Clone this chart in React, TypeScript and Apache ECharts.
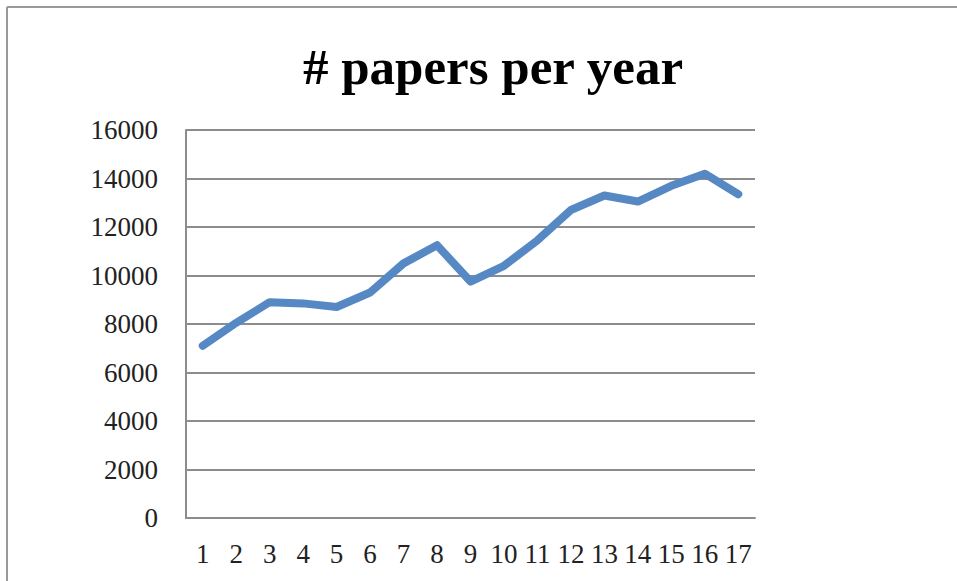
import React, { useEffect, useRef } from "react";
import * as echarts from "echarts";

const categories = ["1", "2", "3", "4", "5", "6", "7", "8", "9", "10", "11", "12", "13", "14", "15", "16", "17"];
const papers = [7100, 8050, 8900, 8850, 8700, 9300, 10500, 11250, 9750, 10400, 11450, 12700, 13300, 13050, 13700, 14200, 13350];
const titleText = "# papers per year";

export default function App() {
  const ref = useRef<HTMLDivElement>(null);
  useEffect(() => {
    if (!ref.current) return;
    const chart = echarts.init(ref.current, undefined, { renderer: "svg" });
    const serif = "'Liberation Serif', 'DejaVu Serif', serif";
    chart.setOption({
      animation: false,
      backgroundColor: "#ffffff",
      title: {
        text: titleText,
        left: 488,
        textAlign: "center",
        top: 36,
        textStyle: { fontFamily: serif, fontWeight: "bold", fontSize: 51, color: "#000000" },
      },
      graphic: [
        { type: "line", shape: { x1: 7, y1: 7, x2: 957, y2: 7 }, style: { stroke: "#9a9a9a", lineWidth: 2 } },
        { type: "line", shape: { x1: 7, y1: 7, x2: 7, y2: 581 }, style: { stroke: "#9a9a9a", lineWidth: 2 } },
      ],
      grid: { left: 186, right: 202, top: 130, bottom: 63, containLabel: false },
      xAxis: {
        type: "category",
        data: categories,
        boundaryGap: true,
        axisLine: { show: true, lineStyle: { color: "#8c8c8c", width: 2 } },
        axisTick: { show: false },
        axisLabel: { fontFamily: serif, fontSize: 27, color: "#222222", margin: 22, interval: 0 },
      },
      yAxis: {
        type: "value",
        min: 0,
        max: 16000,
        interval: 2000,
        axisLine: { show: true, lineStyle: { color: "#8c8c8c", width: 2 } },
        axisTick: { show: false },
        axisLabel: {
          fontFamily: serif,
          fontSize: 27,
          color: "#222222",
          margin: 28,
          formatter: (v: number) => String(v),
        },
        splitLine: { show: true, lineStyle: { color: "#8c8c8c", width: 2 } },
      },
      series: [
        {
          type: "line",
          data: papers,
          symbol: "none",
          lineStyle: { color: "#5689c4", width: 8, cap: "round", join: "round" },
        },
      ],
    });
    return () => chart.dispose();
  }, []);
  return <div ref={ref} style={{ position: "fixed", left: 0, top: 0, width: 957, height: 581 }} />;
}
